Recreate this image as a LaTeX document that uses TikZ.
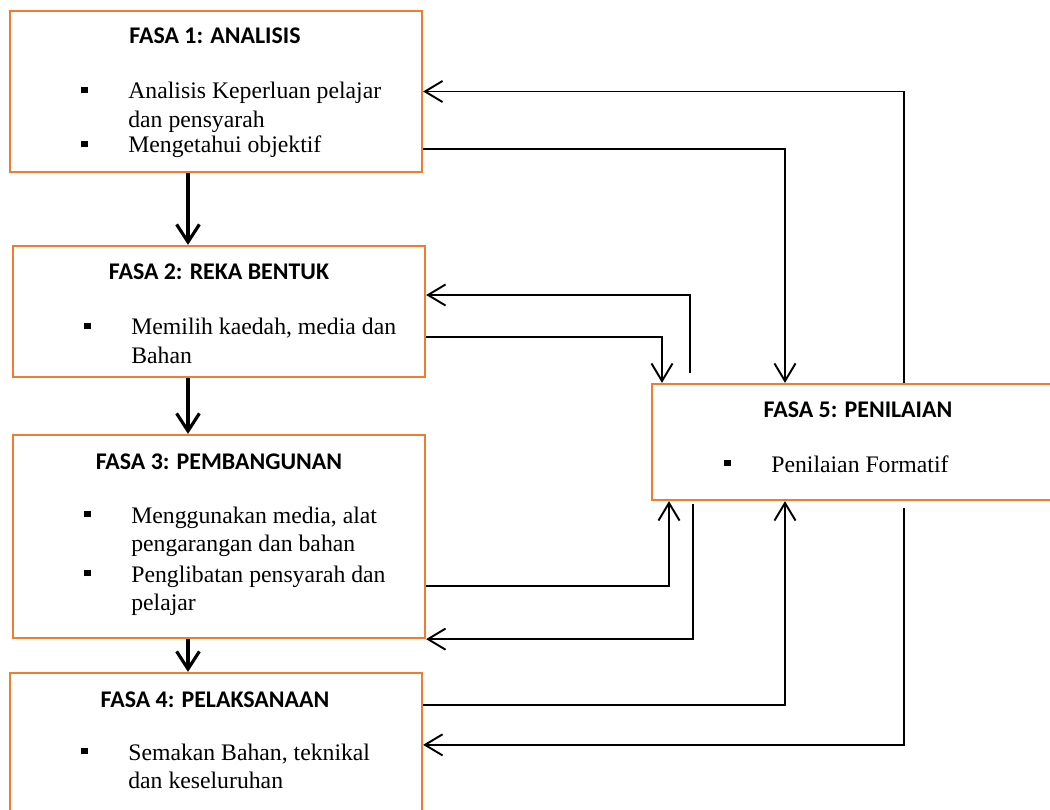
\documentclass[tikz,border=0pt]{standalone}
\usepackage{fontspec}
\setmainfont{Liberation Serif}
\newfontfamily\titlefont{Carlito}
\usepackage{tikz}
\usetikzlibrary{calc, arrows.meta}

\definecolor{boxorange}{HTML}{ED7D31}

% bullet point with its text, lines split by \\
\newcommand{\itm}[1]{\makebox[0.94cm][l]{\rule[3.2pt]{3.8pt}{3.8pt}}\begin{tabular}[t]{@{}l@{}}#1\end{tabular}}

\begin{document}
\begin{tikzpicture}[x=0.02cm, y=-0.02cm,
		box/.style = {draw=boxorange, line width=1.3pt, minimum width=8.24cm, inner sep=0},
		phase/.style = {anchor=base, inner sep=0, font=\titlefont\bfseries\fontsize{13.6}{15}\selectfont},
		entry/.style = {anchor=base west, inner sep=0, font=\fontsize{13.5}{16}\selectfont},
		flow/.style = {line width=1.8pt, -{Straight Barb[length=10pt,width=13pt]}},
		fb/.style = {line width=1.1pt, -{Straight Barb[length=10pt,width=12pt]}}]

			\path[use as bounding box, clip] (0,0) rectangle (1050,810);

			\node[box, minimum height=3.22cm] (fasa1) at (216,91.5) {};
			\node[box, minimum height=2.62cm] (fasa2) at (219,311.5) {};
			\node[box, minimum height=4.06cm] (fasa3) at (219,536.5) {};
			\node[box, minimum height=3cm] (fasa4) at (216,748) {};
			\node[box, minimum height=2.32cm] (fasa5) at (858,442) {};

			\node[phase] (t1) at (215,44) {FASA 1: ANALISIS};
			\node[entry] (i11) at (81,99) {\itm{Analisis Keperluan pelajar\\dan pensyarah}};
			\node[entry] (i12) at (81,153) {\itm{Mengetahui objektif}};

			\node[phase] (t2) at (219,280) {FASA 2: REKA BENTUK};
			\node[entry] (i21) at (84,335) {\itm{Memilih kaedah, media dan\\Bahan}};

			\node[phase] (t3) at (219,469) {FASA 3: PEMBANGUNAN};
			\node[entry] (i31) at (84,523) {\itm{Menggunakan media, alat\\pengarangan dan bahan}};
			\node[entry] (i32) at (84,582) {\itm{Penglibatan pensyarah dan\\pelajar}};

			\node[phase] (t4) at (215,707) {FASA 4: PELAKSANAAN};
			\node[entry] (i41) at (81,760) {\itm{Semakan Bahan, teknikal\\dan keseluruhan}};

			\node[phase] (t5) at (858,417) {FASA 5: PENILAIAN};
			\node[entry] (i51) at (724,472) {\itm{Penilaian Formatif}};

			% main line down the left
			\coordinate (spine) at (188,0);
			\foreach \a/\b in {fasa1/fasa2, fasa2/fasa3, fasa3/fasa4}
			{
				\draw[flow] (\a.south -| spine) -- (\b.north -| spine);
			}

			% lanes of the feedback lines
			\foreach \n/\x in {la/662, lb/669, lc/690, ld/693, le/785, lf/904}
			{
				\coordinate (\n) at (\x,0);
			}

			\draw[fb] (fasa5.north -| lf) -- (lf |- fasa1.east) -- (fasa1.east);
			\draw[fb] ($(fasa1.east)+(0,57.5)$) -| (fasa5.north -| le);
			\draw[fb] ($(fasa2.east)+(0,25.5)$) -| (fasa5.north -| la);
			\draw[fb] ($(fasa5.north -| lc)+(0,-10)$) |- ($(fasa2.east)+(0,-16.5)$);
			\draw[fb] ($(fasa3.east)+(0,49.5)$) -| (fasa5.south -| lb);
			\draw[fb] ($(fasa5.south -| ld)+(0,3)$) |- (fasa3.south east);
			\draw[fb] ($(fasa4.north east)+(0,33)$) -| (fasa5.south -| le);
			\draw[fb] ($(fasa5.south -| lf)+(0,7)$) |- ($(fasa4.north east)+(0,73)$);
		\end{tikzpicture}
\end{document}
